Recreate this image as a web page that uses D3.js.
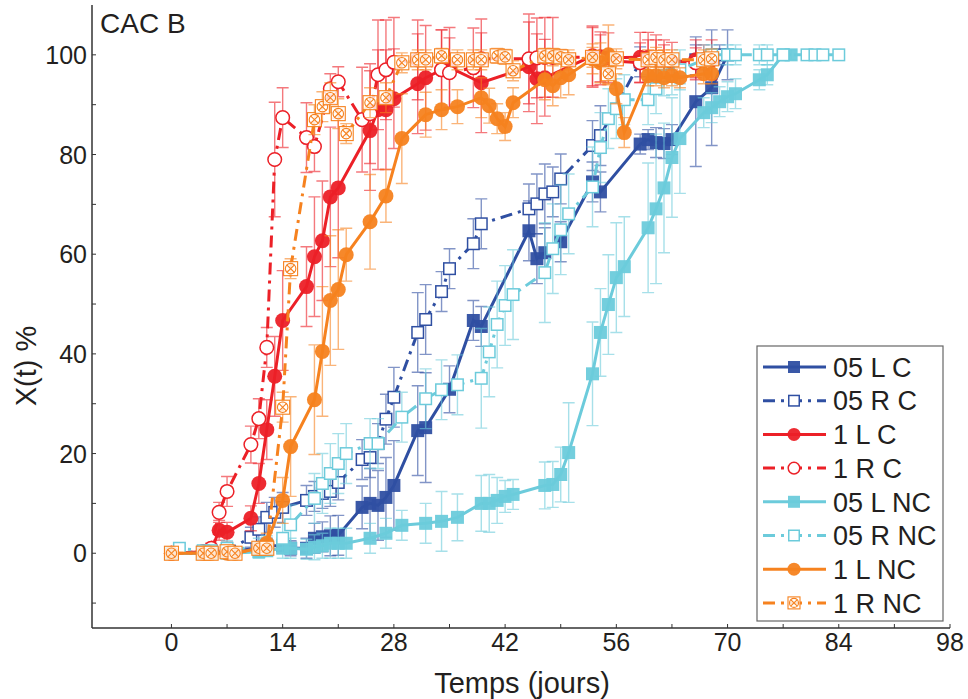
<!DOCTYPE html>
<html><head><meta charset="utf-8">
<script src="https://cdn.jsdelivr.net/npm/d3@7/dist/d3.min.js"></script>
<style>body{margin:0;background:#fff;font-family:"Liberation Sans",Arial,sans-serif;}</style>
</head><body><svg id="c" width="968" height="699"></svg>
<script>
// ---------- DATA ----------
const xTicks = [0,14,28,42,56,70,84,98];
const yTicks = [0,20,40,60,80,100];
const seriesNames = ["05 L C","05 R C","1 L C","1 R C","05 L NC","05 R NC","1 L NC","1 R NC"];

const days_05LC = [0,4,7,11,12,14,15,17,18,19,20,21,24,25,26,27,28,31,32,35,38,39,45,46,47,49,53,54,59,60,61,62,63,66,68,70];
const vals_05LC = [0,0,0.3,1,1.5,1.5,1,1,3,3.3,3.5,3.6,9.2,10,9.6,11.2,13.6,24.6,25.2,32.9,46.7,45.5,64.7,59.1,60.3,62.5,74.5,72.5,82.1,83,82.4,82.2,83,90.6,93.4,100];
const errs_05LC = [0.5,0.5,0.5,1,1.5,1.5,1.5,2,3,3,4,4,4.3,7,7,8,9,9,11,4.7,4,4,6,5,5,4,4,4,2,2,3,3,3,13,11.6,5];

const days_05RC = [0,4,7,10,11,12,13,14,17,18,19,20,21,24,25,26,27,28,31,32,34,35,38,39,45,46,47,48,49,53,54,59,66,69];
const vals_05RC = [0,0.3,0.5,3.2,4.8,7.2,8.2,9.2,10.6,11.4,12,12.4,14.2,18.8,19.2,22,26.9,31.3,44.3,46.9,52.5,57.1,62.1,66.1,69.1,70.1,72.1,72.5,75.1,81.8,83.8,98.6,99,100];
const errs_05RC = [0.5,0.5,1,2,2.5,3,3,3,3,3,3,3,3.5,4,4,4,5,6,8,7,4,4,5,5,5,6,6,5,5,5,6,3,3,2];

const days_1LC = [0,4,5,6,7,10,11,12,13,14,17,18,19,20,21,25,26,27,28,31,32,34,35,39,45,46,47,53,54,55,59,60,61,62,63,66,68];
const vals_1LC = [0,0.3,0.5,4.6,4.2,7,14,24.8,35.5,46.7,53.5,59.5,62.7,71.5,73.3,84.8,89,89,91.2,94.2,95.4,97,97.5,94.4,97.6,95.2,95.4,99.8,99.6,99.4,99.5,99.5,99,99,98.5,99,99];
const errs_1LC = [0.5,0.5,1,2,2,2.5,4,6,8,10,8,12,12,14,14,12,12,12,10,10,10.5,8,8,10,9,9,7.7,6,5,5,5,5,5,4,4,4,4];

const days_1RC = [0,4,5,6,7,10,11,12,13,14,17,18,20,21,24,25,26,27,28,31,34,35,38,39,45,46,47,48,53,54,59,60,61,62,66,67];
const vals_1RC = [0,0.3,1,8.2,12.4,21.8,27,41.3,79,87.4,83.4,81.6,93.2,94.6,87,88.2,96,97,98.5,99,97,96.4,97.4,99.2,99.2,99.4,99.5,99.5,99.5,99,98.4,99,99,99,98.4,99];
const errs_1RC = [0.5,0.5,1,2,3,3.7,4,4,11.5,6,7,5,3,3,10.5,10,11,10,9,8,8,7,8,8,9,8,8,8,6,5,4,4,4,3,3,3];

const days_05LNC = [0,4,5,7,11,12,14,15,17,18,19,20,21,22,25,27,29,32,34,36,39,40,41,42,43,47,48,49,50,53,54,55,56,57,60,61,62,63,64,67,68,69,70,71,74,75,77,78];
const vals_05LNC = [0,0,0,0,0.3,0.5,1,1,0.8,1.2,1.5,2,2,2,3,4,5.6,6,6.4,7.2,10,10,10.6,11.4,11.8,13.6,13.8,15.8,20.2,36,44.3,49.9,55.3,57.5,65.3,69.1,73.3,79.4,83.2,88.4,89.4,90.6,91.6,92.2,95,96,100,100];
const errs_05LNC = [0.5,0.5,0.5,0.5,1,1,2,2,2,2.5,2.5,3,3,3,3,3,3,4,6,4.7,5.6,5.8,4.6,3.2,3,4.7,4.6,5.5,10,10.4,8.8,10,11,10,13,15,13,12,11,3,3,3,3,3,2,2,1,1];

const days_05RNC = [0,1,4,5,7,11,12,14,15,18,19,20,21,22,25,26,29,32,34,36,39,40,41,42,43,47,48,49,50,53,54,55,56,57,60,61,62,63,64,67,68,70,71,74,75,77,80,81,82,84];
const vals_05RNC = [0,1,0.5,0.5,1,1,1.5,3,5.7,11,14,16,18,20,22,22,27.3,31,32.8,33.8,35.1,40.4,45.9,49.7,51.9,56.3,61.1,64.9,68.1,73.5,81.4,87.2,89.2,91,91,93.2,95.8,96,97,99,100,100,100,100,100,100,100,100,100,100];
const errs_05RNC = [0.5,1,1,1,1.5,2,2,3,4,5,6,6,6,6,5,5,5,6,6,6,10,9,8.7,8,9,10,9,9,8,8,7,6,6,5,5,5,4,4,4,3,2,2,2,2,2,1,1,1,1,1];

const days_1LNC = [0,4,5,7,8,11,12,14,15,18,19,20,21,22,25,27,29,32,34,36,39,40,41,42,43,47,48,49,50,53,54,55,56,57,60,61,62,63,64,67,68];
const vals_1LNC = [0,0,0,0,0,1,2,10.6,21.4,30.8,40.5,50.7,52.9,59.9,66.5,71.7,83.2,88,89,89.6,91.4,89.8,87.2,85.6,90.4,95,93.8,95.4,96,99.2,98.4,100,93.2,84.4,95.8,95.8,95.4,95.8,95.4,96.2,96.2];
const errs_1LNC = [0.5,0.5,0.5,0.5,0.5,1,2,4.6,10,11,13,13,12,5.3,9.5,5.3,9,4.5,4,3.4,4,3.5,3,2.8,3,4,4,4,4,3,4,6,3,3,2,2,2,2,2,2,2];

const days_1RNC = [0,4,5,7,8,11,12,14,15,18,19,20,21,22,25,27,29,31,32,34,36,38,39,41,42,43,47,48,49,50,53,55,56,60,61,62,63,67,68];
const vals_1RNC = [0,0,0,0.3,0,1,1,29.3,57.1,87,89.6,91.4,88.2,84.2,90.4,91.4,98.4,99,99,99.8,99,99,99,99.8,99.6,96.8,99.8,99.8,99.6,99,99.5,96.2,99.2,99,99.5,99,99,99,99.2];
const errs_1RNC = [0.5,0.5,0.5,0.5,0.5,1,1,3,2,3,3,3,3,2,3,3,2,2,2,1.5,2,2,2,1.5,1.5,2,1.5,1.5,1.5,2,2,2,2,2,2,2,2,2,2];

// ---------- STYLE ----------
const DB="#2f4fa2", RD="#ec2027", LB="#6ccbdb", OR="#f6821f";
const series = [
  {name:seriesNames[0], d:days_05LC, v:vals_05LC, e:errs_05LC, c:DB, dash:false, m:"sqF"},
  {name:seriesNames[1], d:days_05RC, v:vals_05RC, e:errs_05RC, c:DB, dash:true, m:"sqO"},
  {name:seriesNames[2], d:days_1LC, v:vals_1LC, e:errs_1LC, c:RD, dash:false, m:"ciF"},
  {name:seriesNames[3], d:days_1RC, v:vals_1RC, e:errs_1RC, c:RD, dash:true, m:"ciO"},
  {name:seriesNames[4], d:days_05LNC, v:vals_05LNC, e:errs_05LNC, c:LB, dash:false, m:"sqF"},
  {name:seriesNames[5], d:days_05RNC, v:vals_05RNC, e:errs_05RNC, c:LB, dash:true, m:"sqO"},
  {name:seriesNames[6], d:days_1LNC, v:vals_1LNC, e:errs_1LNC, c:OR, dash:false, m:"ciF"},
  {name:seriesNames[7], d:days_1RNC, v:vals_1RNC, e:errs_1RNC, c:OR, dash:true, m:"cross"}
];

const svg = d3.select("#c");
const X0=92, X1=950, Y0=628, Y1=5;
const x = d3.scaleLinear().domain([-10,98]).range([X0,X1]);
const y = d3.scaleLinear().domain([-15,110]).range([Y0,Y1]);
const TXT="#231f20";

function marker(g, type, c, cx, cy, s){
  const h=s/2;
  if(type==="sqF"){ g.append("rect").attr("x",cx-h).attr("y",cy-h).attr("width",s).attr("height",s).attr("fill",c).attr("opacity",0.95); }
  else if(type==="sqO"){ g.append("rect").attr("x",cx-h+0.75).attr("y",cy-h+0.75).attr("width",s-1.5).attr("height",s-1.5).attr("fill","#fff").attr("stroke",c).attr("stroke-width",1.5); }
  else if(type==="ciF"){ g.append("circle").attr("cx",cx).attr("cy",cy).attr("r",h).attr("fill",c).attr("opacity",0.95); }
  else if(type==="ciO"){ g.append("circle").attr("cx",cx).attr("cy",cy).attr("r",h-0.7).attr("fill","#fff").attr("stroke",c).attr("stroke-width",1.5); }
  else {
    g.append("rect").attr("x",cx-h).attr("y",cy-h).attr("width",s).attr("height",s).attr("fill","#fff").attr("fill-opacity",0.8).attr("stroke",c).attr("stroke-width",1.1);
    g.append("circle").attr("cx",cx).attr("cy",cy).attr("r",h*0.75).attr("fill","none").attr("stroke",c).attr("stroke-width",1.1);
    const k=h*0.55;
    g.append("path").attr("d",`M${cx-k},${cy-k}L${cx+k},${cy+k}M${cx-k},${cy+k}L${cx+k},${cy-k}`).attr("stroke",c).attr("stroke-width",1.1);
  }
}
const msize = m => m.startsWith("ci") ? 15 : (m==="cross" ? 14 : 13);

// axes
const ax = svg.append("g");
ax.append("line").attr("x1",X0).attr("x2",X0).attr("y1",Y1).attr("y2",Y0).attr("stroke","#333").attr("stroke-width",1.5);
ax.append("line").attr("x1",X0).attr("x2",X1).attr("y1",Y0).attr("y2",Y0).attr("stroke","#333").attr("stroke-width",1.5);
d3.range(-10,101,10).forEach(t=>{
  ax.append("line").attr("x1",X0).attr("x2",X0+4).attr("y1",y(t)).attr("y2",y(t)).attr("stroke","#333").attr("stroke-width",1);
});
d3.range(0,99,7).forEach(t=>{
  ax.append("line").attr("x1",x(t)).attr("x2",x(t)).attr("y1",Y0).attr("y2",Y0-4).attr("stroke","#333").attr("stroke-width",1);
});
yTicks.forEach(t=>{
  ax.append("text").attr("x",X0-5).attr("y",y(t)).attr("dy","0.36em").attr("text-anchor","end")
    .attr("font-size",25).attr("fill",TXT).text(t);
});
xTicks.forEach(t=>{
  ax.append("text").attr("x",x(t)).attr("y",651).attr("text-anchor","middle")
    .attr("font-size",25).attr("fill",TXT).text(t);
});
svg.append("text").attr("x",522).attr("y",693).attr("text-anchor","middle").attr("font-size",29).attr("fill",TXT).text("Temps (jours)");
svg.append("text").attr("transform","translate(36,366) rotate(-90)").attr("text-anchor","middle").attr("font-size",29).attr("fill",TXT).text("X(t) %");
svg.append("text").attr("x",100).attr("y",33).attr("font-size",28).attr("fill",TXT).text("CAC B");

// series
const line = d3.line().x(p=>x(p[0])).y(p=>y(p[1]));
series.forEach(s=>{
  const g = svg.append("g");
  const pts = s.d.map((d,i)=>[d,s.v[i],s.e[i]]);
  pts.forEach(p=>{
    const cx=x(p[0]), t=y(p[1]+p[2]), b=y(p[1]-p[2]);
    g.append("path").attr("d",`M${cx},${t}L${cx},${b}M${cx-6},${t}L${cx+6},${t}M${cx-6},${b}L${cx+6},${b}`)
      .attr("stroke",s.c).attr("stroke-opacity",0.6).attr("stroke-width",1.4).attr("fill","none");
  });
  g.append("path").attr("d",line(pts)).attr("fill","none").attr("stroke",s.c).attr("stroke-width",3)
    .attr("stroke-dasharray", s.dash ? "12,6,3,6" : null);
  pts.forEach(p=> marker(g, s.m, s.c, x(p[0]), y(p[1]), msize(s.m)));
});

// legend
const lg = svg.append("g");
lg.append("rect").attr("x",757).attr("y",346).attr("width",186).attr("height",275).attr("fill","#fff").attr("stroke","#666").attr("stroke-width",1.2);
series.forEach((s,i)=>{
  const cy = 367 + i*33.7;
  lg.append("line").attr("x1",763).attr("x2",826).attr("y1",cy).attr("y2",cy).attr("stroke",s.c).attr("stroke-width",3)
    .attr("stroke-dasharray", s.dash ? "12,6,3,6" : null);
  marker(lg, s.m, s.c, 794, cy, s.m.startsWith("ci") ? 13 : 12);
  lg.append("text").attr("x",833).attr("y",cy).attr("dy","0.36em").attr("font-size",27).attr("fill",TXT).text(s.name);
});
</script></body></html>
